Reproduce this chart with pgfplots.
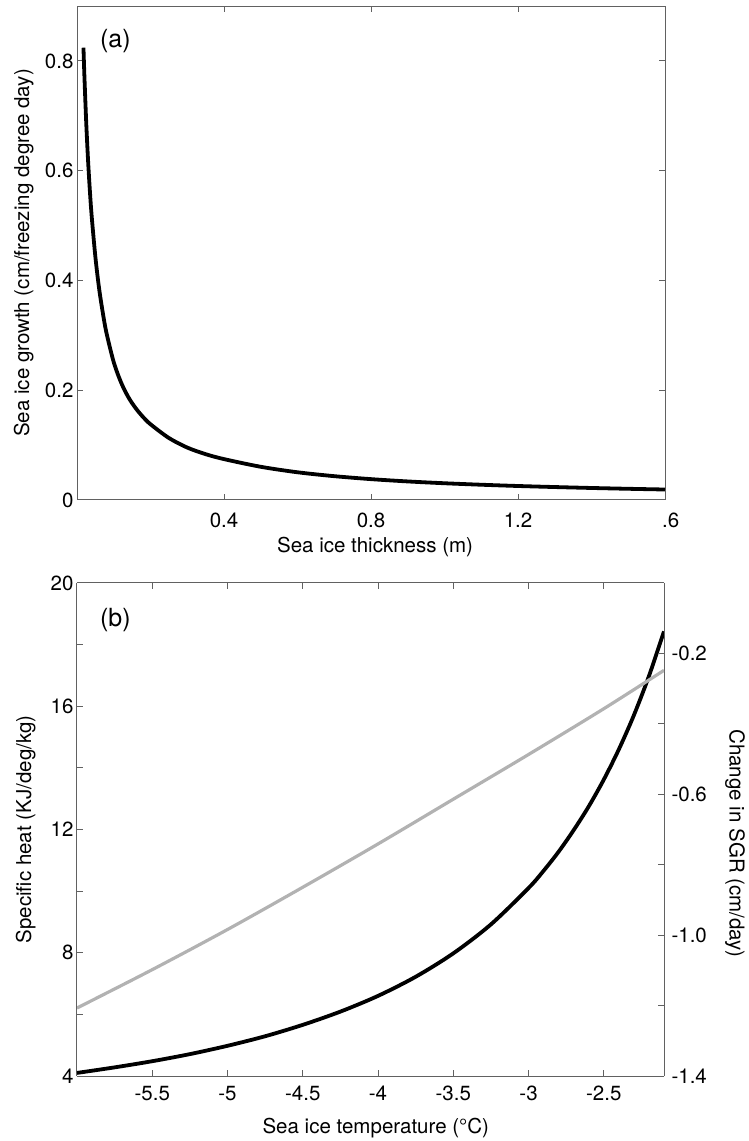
\documentclass[border=0pt]{standalone}
\usepackage{fontspec}
\setmainfont{TeX Gyre Heros}
\usepackage{pgfplots}
\pgfplotsset{compat=1.18}
\newcommand\lblfont{\fontsize{20.5pt}{24pt}\selectfont}
\newcommand\panelfont{\fontsize{25pt}{29pt}\selectfont}
\definecolor{axgray}{gray}{0.38}
\definecolor{curvegray}{gray}{0.70}
\pgfplotsset{
  myaxis/.style={
    scale only axis,
    axis line style={draw=axgray, line width=1pt},
    tick style={draw=axgray, line width=1pt},
    major tick length=6pt,
    tick align=inside,
    tick label style={font=\lblfont},
    label style={font=\lblfont},
  },
  noarrows/.style={
    axis line style={-},
    every outer x axis line/.append style={-},
    every outer y axis line/.append style={-},
    every inner x axis line/.append style={-},
    every inner y axis line/.append style={-},
  },
}
\begin{document}
\begin{tikzpicture}
% ---------------- panel (a) ----------------
\begin{axis}[myaxis,
  width=588pt, height=494pt,
  at={(77pt,641pt)}, anchor=south west,
  xmin=0, xmax=1.6, ymin=0, ymax=0.9,
  xtick={0.4,0.8,1.2,1.6},
  xticklabels={0.4,0.8,1.2,{\phantom{1}.6}},
  xticklabel style={anchor=base, yshift=-28pt},
  ytick={0,0.2,0.4,0.6,0.8},
  yticklabels={0,0.2,0.4,0.6,0.8},
  xlabel={Sea ice thickness (m)},
  xlabel style={at={(axis description cs:0.507,0)}, anchor=base, yshift=-53pt},
  ylabel={Sea ice growth (cm/freezing degree day)},
  ylabel style={at={(axis description cs:-0.0816,0.5)}, anchor=base},
]
\addplot[black, line width=3.8pt, smooth] coordinates {
(0.0176,0.824) (0.020,0.775) (0.025,0.689) (0.030,0.620) (0.035,0.5636)
(0.040,0.5167) (0.050,0.4429) (0.060,0.386) (0.070,0.342) (0.080,0.305)
(0.100,0.251) (0.120,0.214) (0.140,0.187) (0.160,0.167) (0.180,0.151)
(0.200,0.138) (0.250,0.113) (0.300,0.0955) (0.350,0.0835) (0.400,0.0745)
(0.500,0.0605) (0.600,0.0505) (0.700,0.0434) (0.800,0.0380) (0.900,0.0338)
(1.000,0.0305) (1.100,0.0278) (1.200,0.0255) (1.300,0.0236) (1.400,0.0219)
(1.500,0.0204) (1.600,0.0191)
};
\node[anchor=base west, inner sep=0pt, font=\panelfont] at (axis description cs:0.039,0.917) {(a)};
\end{axis}
% ---------------- panel (b), left axis ----------------
\begin{axis}[myaxis,
  width=587pt, height=493pt,
  at={(77pt,65pt)}, anchor=south west,
  xmin=-6, xmax=-2.1, ymin=4, ymax=20,
  axis y line*=left, noarrows,
  ytick pos=left, yticklabel pos=left,
  xtick={-5.5,-5,-4.5,-4,-3.5,-3,-2.5},
  xticklabels={-5.5,-5,-4.5,-4,-3.5,-3,-2.5},
  xticklabel style={anchor=base, yshift=-24pt},
  ytick={4,6,8,10,12,14,16,18,20},
  yticklabels={4,,8,,12,,16,,20},
  xlabel={Sea ice temperature (°C)},
  xlabel style={at={(axis description cs:0.509,0)}, anchor=base, yshift=-57pt},
  ylabel={Specific heat (KJ/deg/kg)},
  ylabel style={at={(axis description cs:-0.078,0.5)}, anchor=base},
]
\addplot[black, line width=3.8pt, smooth] coordinates {
(-6.00,4.10) (-5.75,4.28) (-5.50,4.48) (-5.25,4.71) (-5.00,4.98)
(-4.75,5.29) (-4.50,5.66) (-4.25,6.09) (-4.00,6.60) (-3.75,7.22)
(-3.50,7.98) (-3.25,8.92) (-3.00,10.10) (-2.90,10.66) (-2.80,11.28)
(-2.70,11.98) (-2.60,12.75) (-2.50,13.62) (-2.40,14.60) (-2.30,15.71)
(-2.20,16.98) (-2.10,18.43)
};
\node[anchor=base west, inner sep=0pt, font=\panelfont] at (axis description cs:0.039,0.9108) {(b)};
\end{axis}
% ---------------- panel (b), right axis ----------------
\begin{axis}[myaxis,
  width=587pt, height=493pt,
  at={(77pt,65pt)}, anchor=south west,
  xmin=-6, xmax=-2.1, ymin=-1.4, ymax=0,
  axis x line=none, xtick=\empty,
  axis y line*=right, noarrows,
  ytick pos=right, yticklabel pos=right,
  ytick={-1.4,-1.2,-1.0,-0.8,-0.6,-0.4,-0.2,0},
  yticklabels={-1.4,,-1.0,,-0.6,,-0.2,},
  yticklabel style={anchor=west, xshift=4pt},
  ylabel={Change in SGR (cm/day)},
  ylabel style={at={(axis description cs:1.1116,0.4716)}, anchor=base, rotate=-180},
]
\addplot[curvegray, line width=3.2pt, smooth] coordinates {
(-6.0,-1.207) (-5.5,-1.098) (-5.0,-0.984) (-4.5,-0.864) (-4.0,-0.741)
(-3.5,-0.614) (-3.0,-0.487) (-2.5,-0.357) (-2.1,-0.248)
};
\end{axis}
\pgfresetboundingbox
\path[use as bounding box] (0,0) rectangle (748pt,1141pt);
\end{tikzpicture}
\end{document}
